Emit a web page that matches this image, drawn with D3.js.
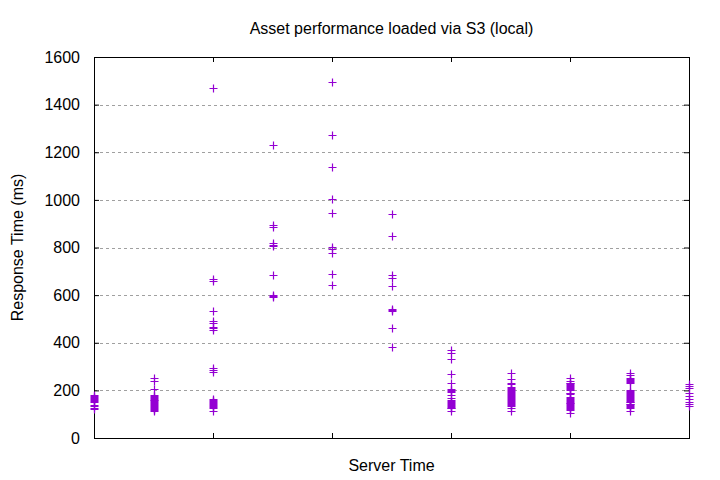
<!DOCTYPE html>
<html>
<head>
<meta charset="utf-8">
<script src="https://cdn.jsdelivr.net/npm/d3@7"></script>
<style>
  html, body { margin: 0; padding: 0; background: #fff; }
  svg { display: block; font-family: "Liberation Sans", Arial, sans-serif; }
</style>
</head>
<body>
<svg id="chart" width="720" height="480"></svg>
<script>
// ---- data ----
const title = "Asset performance loaded via S3 (local)";
const xLabel = "Server Time";
const yLabel = "Response Time (ms)";
const yTicks = [0, 200, 400, 600, 800, 1000, 1200, 1400, 1600];
const xTicks = [0, 2, 4, 6, 8, 10];
const serverTimes = [0, 1, 2, 3, 4, 5, 6, 7, 8, 9, 10];

const col0 = [181, 176, 171, 167, 163, 159, 155, 152, 140, 136, 125, 121];
const col1 = [252, 240, 204, 180, 177, 173, 169, 165, 161, 158, 154, 150, 146, 142, 139, 135, 131, 127, 123, 119, 115];
const col2 = [1468, 669, 660, 532, 490, 481, 468, 464, 452, 295, 285, 277, 162, 158, 154, 150, 146, 142, 138, 134, 131, 124, 114];
const col3 = [1232, 895, 886, 818, 812, 805, 683, 599, 595, 591];
const col4 = [1495, 1272, 1138, 1004, 946, 802, 792, 778, 690, 644];
const col5 = [939, 849, 686, 673, 638, 540, 536, 532, 460, 383];
const col6 = [369, 359, 330, 267, 229, 204, 200, 196, 192, 180, 170, 159, 155, 151, 147, 143, 139, 135, 131, 127, 124, 113];
const col7 = [271, 246, 232, 225, 215, 211, 207, 203, 198, 194, 187, 183, 179, 175, 171, 167, 163, 159, 155, 151, 147, 143, 139, 135, 124, 113];
const col8 = [250, 240, 233, 229, 225, 221, 217, 213, 209, 205, 201, 191, 187, 183, 173, 169, 165, 161, 157, 153, 149, 145, 141, 137, 133, 129, 125, 121, 117, 106];
const col9 = [275, 264, 250, 246, 242, 238, 234, 229, 201, 197, 193, 189, 185, 181, 177, 173, 169, 165, 161, 157, 153, 150, 144, 141, 137, 133, 129, 124, 114];
const col10 = [228, 218, 208, 187, 177, 162, 152, 141, 134];
const responseColumns = [col0, col1, col2, col3, col4, col5, col6, col7, col8, col9, col10];

// ---- layout ----
const W = 720, H = 480;
const m = { left: 94, right: 31, top: 57, bottom: 42 };
const pw = W - m.left - m.right, ph = H - m.top - m.bottom;
const color = "#9400D3";

const svg = d3.select("#chart");
const g = svg.append("g").attr("transform", `translate(${m.left},${m.top})`);

const x = d3.scaleLinear().domain([0, 10]).range([0, pw]);
const y = d3.scaleLinear().domain([0, 1600]).range([ph, 0]);

// grid lines
g.append("g").selectAll("line").data(yTicks.filter(t => t > 0 && t < 1600)).join("line")
  .attr("x1", 0).attr("x2", pw)
  .attr("y1", d => Math.round(y(d)) + 0.5).attr("y2", d => Math.round(y(d)) + 0.5)
  .attr("stroke", "#a0a0a0").attr("stroke-width", 1).attr("stroke-dasharray", "3,3");

// axes (ticks inside, mirrored)
const tl = 5;
const yAxisL = d3.axisLeft(y).tickValues(yTicks).tickSize(-tl).tickPadding(tl + 9).tickFormat(d3.format("d"));
const yAxisR = d3.axisRight(y).tickValues(yTicks).tickSize(-tl).tickFormat("");
const xAxisB = d3.axisBottom(x).tickValues(xTicks).tickSize(-tl).tickFormat("");
const xAxisT = d3.axisTop(x).tickValues(xTicks).tickSize(-tl).tickFormat("");

function styleAxis(sel) {
  sel.attr("font-family", null);
  sel.select(".domain").remove();
  sel.selectAll(".tick line").attr("stroke", "#000");
  sel.selectAll("text").attr("font-size", 16).attr("fill", "#000")
     .attr("font-family", "'Liberation Sans', Arial, sans-serif");
}
g.append("g").call(yAxisL).call(styleAxis);
g.append("g").attr("transform", `translate(${pw},0)`).call(yAxisR).call(styleAxis);
g.append("g").attr("transform", `translate(0,${ph})`).call(xAxisB).call(styleAxis);
g.append("g").call(xAxisT).call(styleAxis);

// border
g.append("rect").attr("x", 0.5).attr("y", 0.5).attr("width", pw).attr("height", ph)
  .attr("fill", "none").attr("stroke", "#000").attr("stroke-width", 1);

// points (plus markers)
const pts = [];
responseColumns.forEach((vals, i) => vals.forEach(v => pts.push({ t: serverTimes[i], v })));
const s = 4;
g.append("g").selectAll("path").data(pts).join("path")
  .attr("d", d => {
    const cx = Math.round(x(d.t)) + 0.5, cy = Math.round(y(d.v)) + 0.5;
    return `M${cx - s},${cy}H${cx + s}M${cx},${cy - s}V${cy + s}`;
  })
  .attr("stroke", color).attr("stroke-width", 1.2).attr("fill", "none");

// texts
svg.append("text").attr("x", m.left + pw / 2).attr("y", 34).attr("text-anchor", "middle")
  .attr("font-size", 16).text(title);
svg.append("text").attr("x", m.left + pw / 2).attr("y", 471).attr("text-anchor", "middle")
  .attr("font-size", 16).text(xLabel);
svg.append("text").attr("transform", `translate(23,${m.top + ph / 2}) rotate(-90)`)
  .attr("text-anchor", "middle").attr("font-size", 16).text(yLabel);
</script>
</body>
</html>
